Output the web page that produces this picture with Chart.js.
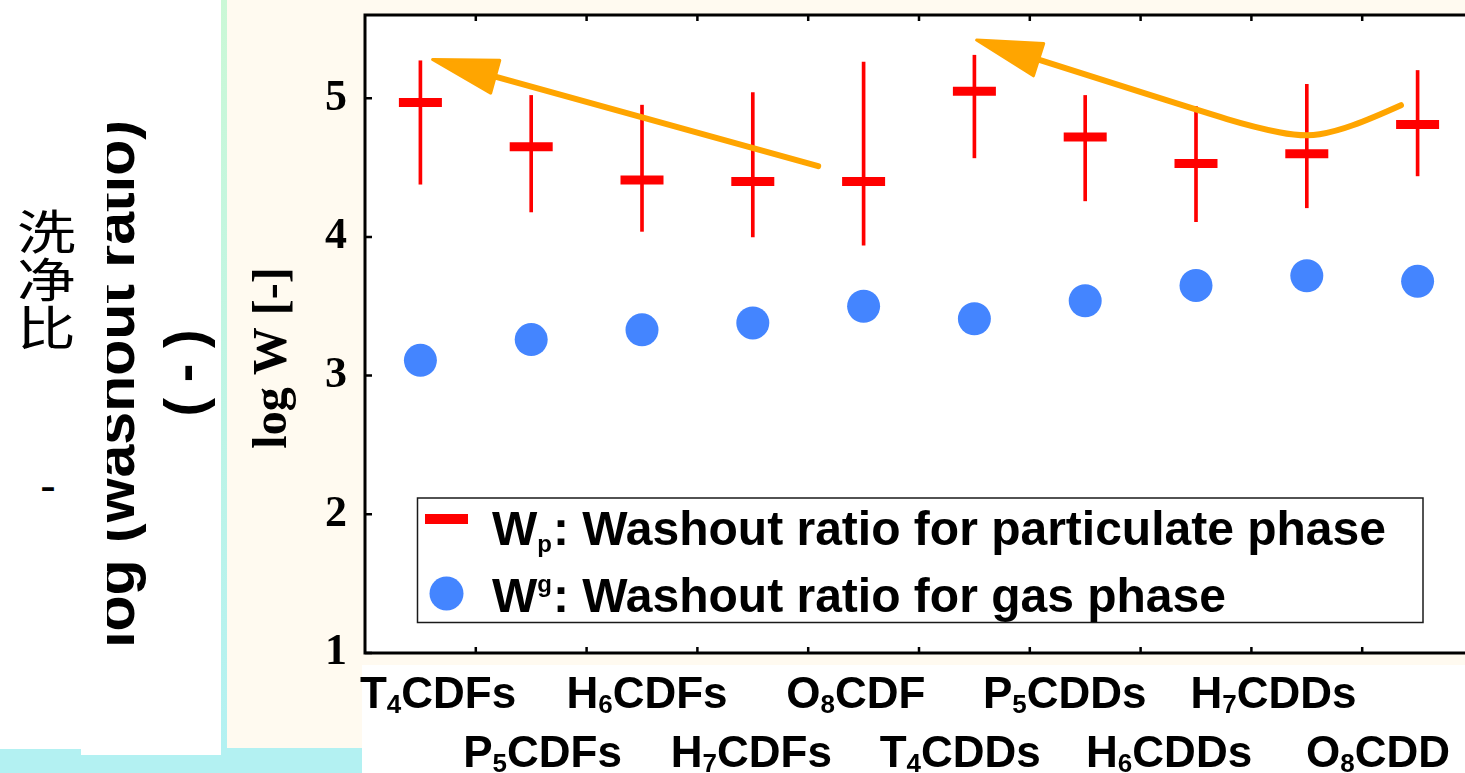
<!DOCTYPE html>
<html>
<head>
<meta charset="utf-8">
<title>Washout ratio of PCDD/Fs</title>
<script src="https://cdn.jsdelivr.net/npm/chart.js@4.4.1/dist/chart.umd.min.js"></script>
<style>
  html, body { margin: 0; padding: 0; width: 1465px; height: 773px; overflow: hidden; background: #fffaf0; }
  .block { position: absolute; }
  #foot { left: 0; top: 748px; width: 362px; height: 25px; background: #b3f1f2; }
  #panel { left: 0; top: 0; width: 221px; height: 749px; background: #fff; }
  #notch { left: 81px; top: 748px; width: 140px; height: 7px; background: #fff; }
  #stripe { left: 221px; top: 0; width: 6px; height: 748px; background: linear-gradient(#cbf8d6, #b3f1f2); }
  #labelZone { left: 362px; top: 665px; width: 1103px; height: 108px; background: #fff; }
  #cjk { left: 17px; top: 205px; font: 47px/48px "Noto Sans CJK SC", sans-serif; color: #000; transform: scaleX(1.25); transform-origin: left top; }
  #dash { left: 40px; top: 462px; font: 48px/48px "Liberation Sans", Arial, sans-serif; color: #000; }
  #clip { left: 107px; top: 0; width: 114px; height: 749px; overflow: hidden; }
  .turned { position: absolute; text-align: center; white-space: nowrap; color: #000; font-family: "Liberation Sans", Arial, sans-serif; font-weight: bold; transform: rotate(-90deg); }
  #washout { left: -292.75px; top: 350.5px; width: 600px; height: 66px; font-size: 59px; line-height: 66px; }
  #unit { left: 83.6px; top: 341.5px; width: 200px; height: 62px; font-size: 56px; line-height: 62px; }
  #chart { position: absolute; left: 0; top: 0; }
</style>
</head>
<body>
<div class="block" id="foot"></div>
<div class="block" id="panel"></div>
<div class="block" id="notch"></div>
<div class="block" id="stripe"></div>
<div class="block" id="labelZone"></div>
<div class="block" id="cjk">洗<br>净<br>比</div>
<div class="block" id="dash">-</div>
<div class="block" id="clip"><div class="turned" id="washout">log (washout ratio)</div></div>
<div class="turned" id="unit">( - )</div>
<canvas id="chart" width="1480" height="773"></canvas>

<script>
// homologue groups, left to right (the digit is drawn as a subscript)
const categories = ['T4CDFs', 'P5CDFs', 'H6CDFs', 'H7CDFs', 'O8CDF', 'T4CDDs', 'P5CDDs', 'H6CDDs', 'H7CDDs', 'O8CDD'];

// particulate phase: mean with low/high range
const wpMean = [4.97, 4.65, 4.41, 4.40, 4.40, 5.05, 4.72, 4.53, 4.60, 4.81];
const wpLow  = [4.38, 4.18, 4.04, 4.00, 3.94, 4.57, 4.26, 4.11, 4.21, 4.44];
const wpHigh = [5.27, 5.02, 4.95, 5.04, 5.26, 5.31, 5.02, 4.94, 5.10, 5.20];

// gas phase
const wgMean = [3.11, 3.26, 3.33, 3.38, 3.50, 3.41, 3.54, 3.65, 3.72, 3.68];

const yTicks = [1, 2, 3, 4, 5];
const seriesLabels = ['Wp: Washout ratio for particulate phase', 'Wg: Washout ratio for gas phase'];

// trend arrows, in (category index, log W); last point is the arrow tip
const trendArrows = [
  [{ x: 3.59, y: 4.51 }, { x: 0.11, y: 5.28 }],
  [{ x: 8.85, y: 4.95 }, { x: 8.57, y: 4.85 }, { x: 8.26, y: 4.76 }, { x: 7.97, y: 4.72 },
   { x: 7.53, y: 4.79 }, { x: 7.03, y: 4.91 }, { x: 5.02, y: 5.42 }]
];

const SANS = '"Liberation Sans", Arial, sans-serif';
const SERIF = '"Liberation Serif", "Times New Roman", serif';

// white plot area, black frame and inward ticks
const framePlugin = {
  id: 'frame',
  beforeDraw(chart) {
    const { ctx, chartArea: a } = chart;
    ctx.save();
    ctx.fillStyle = '#ffffff';
    ctx.fillRect(a.left, a.top, a.right - a.left, a.bottom - a.top);
    ctx.restore();
  },
  afterDraw(chart) {
    const { ctx, chartArea: a, scales } = chart;
    const x = scales.x, y = scales.y;
    ctx.save();
    ctx.strokeStyle = '#000';
    ctx.lineWidth = 3;
    ctx.strokeRect(a.left, a.top, a.right - a.left, a.bottom - a.top);
    ctx.lineWidth = 2.5;
    ctx.beginPath();
    yTicks.forEach(v => {
      const py = y.getPixelForValue(v);
      ctx.moveTo(a.left, py);
      ctx.lineTo(a.left + 7, py);
    });
    for (let i = 1; i < categories.length; i++) {
      const px = (x.getPixelForValue(i - 1) + x.getPixelForValue(i)) / 2;
      ctx.moveTo(px, a.top);
      ctx.lineTo(px, a.top + 6);
      ctx.moveTo(px, a.bottom);
      ctx.lineTo(px, a.bottom - 6);
    }
    ctx.stroke();
    ctx.restore();
  }
};

// category names in two staggered rows, placed by the xl scale
const groupLabelPlugin = {
  id: 'groupLabels',
  afterDraw(chart) {
    const { ctx, scales: { xl } } = chart;
    ctx.save();
    ctx.fillStyle = '#000';
    ctx.textBaseline = 'alphabetic';
    categories.forEach((name, i) => {
      const head = name[0], sub = name[1], tail = name.slice(2);
      ctx.font = 'bold 44px ' + SANS;
      const wHead = ctx.measureText(head).width;
      const wTail = ctx.measureText(tail).width;
      ctx.font = 'bold 26px ' + SANS;
      const wSub = ctx.measureText(sub).width;
      const base = xl.top + (i % 2 ? 114 : 55);
      let tx = xl.getPixelForValue(i) - (wHead + wSub + wTail) / 2;
      ctx.font = 'bold 44px ' + SANS;
      ctx.fillText(head, tx, base);
      tx += wHead;
      ctx.font = 'bold 26px ' + SANS;
      ctx.fillText(sub, tx, base + 5);
      tx += wSub;
      ctx.font = 'bold 44px ' + SANS;
      ctx.fillText(tail, tx, base);
    });
    ctx.restore();
  }
};

// orange arrows drawn on the data scales
const arrowPlugin = {
  id: 'arrows',
  afterDatasetsDraw(chart) {
    const { ctx, scales: { x, y } } = chart;
    const headLen = 65, headHalf = 17;
    ctx.save();
    ctx.strokeStyle = '#ffa500';
    ctx.fillStyle = '#ffa500';
    ctx.lineCap = 'round';
    ctx.lineJoin = 'round';
    trendArrows.forEach(points => {
      const pts = points.map(p => ({ x: x.getPixelForValue(p.x), y: y.getPixelForValue(p.y) }));
      const tip = pts[pts.length - 1];
      const prev = pts[pts.length - 2];
      const len = Math.hypot(tip.x - prev.x, tip.y - prev.y);
      const dx = (tip.x - prev.x) / len, dy = (tip.y - prev.y) / len;
      const base = { x: tip.x - dx * headLen, y: tip.y - dy * headLen };
      const path = pts.slice(0, -1).concat([base]);

      ctx.lineWidth = 6;
      ctx.beginPath();
      ctx.moveTo(path[0].x, path[0].y);
      for (let i = 1; i < path.length - 1; i++) {
        const mx = (path[i].x + path[i + 1].x) / 2, my = (path[i].y + path[i + 1].y) / 2;
        ctx.quadraticCurveTo(path[i].x, path[i].y, mx, my);
      }
      ctx.lineTo(base.x, base.y);
      ctx.stroke();

      ctx.lineWidth = 3;
      ctx.beginPath();
      ctx.moveTo(tip.x, tip.y);
      ctx.lineTo(base.x - dy * headHalf, base.y + dx * headHalf);
      ctx.lineTo(base.x + dy * headHalf, base.y - dx * headHalf);
      ctx.closePath();
      ctx.fill();
      ctx.stroke();
    });
    ctx.restore();
  }
};

// boxed legend inside the plot, with sub/superscripted W
const legendPlugin = {
  id: 'legendBox',
  afterDraw(chart, args, opts) {
    const { ctx, chartArea: a } = chart;
    const left = a.left + opts.x, top = a.top + opts.y;
    ctx.save();
    ctx.fillStyle = '#fff';
    ctx.fillRect(left, top, opts.width, opts.height);
    ctx.strokeStyle = '#1a1a1a';
    ctx.lineWidth = 1.5;
    ctx.strokeRect(left, top, opts.width, opts.height);

    const rows = chart.data.datasets.filter(ds => ds.legendMark);
    rows.forEach((ds, i) => {
      const base = top + opts.firstBaseline + i * opts.rowGap;
      const mx = left + opts.markerX;
      ctx.fillStyle = ds.pointBackgroundColor;
      if (ds.pointStyle === 'line') {
        ctx.fillRect(mx - 21.5, base - 31, 43, 10);
      } else {
        ctx.beginPath();
        ctx.arc(mx, base - 18.5, 17, 0, Math.PI * 2);
        ctx.fill();
      }
      ctx.fillStyle = '#000';
      ctx.textBaseline = 'alphabetic';
      let tx = left + opts.textX;
      ctx.font = 'bold 48px ' + SANS;
      ctx.fillText(ds.label[0], tx, base);
      tx += ctx.measureText(ds.label[0]).width;
      ctx.font = 'bold 24px ' + SANS;
      ctx.fillText(ds.label[1], tx, base + (ds.legendMark === 'sub' ? 7 : -20));
      tx += ctx.measureText(ds.label[1]).width + 1;
      ctx.font = 'bold 48px ' + SANS;
      ctx.fillText(ds.label.slice(2), tx, base);
    });
    ctx.restore();
  }
};

new Chart(document.getElementById('chart'), {
  type: 'bar',
  data: {
    labels: categories,
    datasets: [
      {
        type: 'line',
        label: seriesLabels[0],
        data: wpMean,
        xAxisID: 'x',
        showLine: false,
        pointStyle: 'line',
        pointRadius: 21.5,
        pointBorderWidth: 9,
        pointBorderColor: '#ff0000',
        pointBackgroundColor: '#ff0000',
        order: 1,
        legendMark: 'sub'
      },
      {
        type: 'bar',
        label: 'range',
        data: wpLow.map((lo, i) => [lo, wpHigh[i]]),
        xAxisID: 'x',
        backgroundColor: '#ff0000',
        borderWidth: 0,
        barThickness: 3,
        order: 2
      },
      {
        type: 'line',
        label: seriesLabels[1],
        data: wgMean,
        xAxisID: 'x',
        showLine: false,
        pointStyle: 'circle',
        pointRadius: 16.5,
        pointBorderWidth: 0,
        pointBackgroundColor: '#4485ff',
        order: 3,
        legendMark: 'sup'
      }
    ]
  },
  options: {
    responsive: false,
    animation: false,
    events: [],
    devicePixelRatio: 1,
    layout: { autoPadding: false, padding: { top: 15, right: 7, bottom: 0, left: 0 } },
    plugins: {
      legend: { display: false },
      tooltip: { enabled: false },
      legendBox: { x: 52.5, y: 483, width: 1005.5, height: 124.5, markerX: 29, textX: 74.5, firstBaseline: 47, rowGap: 67 }
    },
    scales: {
      x: {
        type: 'category',
        offset: true,
        display: false
      },
      xl: {
        type: 'linear',
        position: 'bottom',
        offset: false,
        bounds: 'data',
        min: -0.70,
        max: 9.91,
        afterBuildTicks: s => {
          s.min = s.options.min;
          s.max = s.options.max;
          s.ticks = categories.map((_, i) => ({ value: i }));
        },
        afterFit: s => {
          s.height = 120;
          s.paddingLeft = 0;
          s.paddingRight = 0;
        },
        grid: { display: false, drawTicks: false },
        border: { display: false },
        ticks: { display: false, includeBounds: false }
      },
      y: {
        type: 'linear',
        min: 1,
        max: 5.6,
        afterBuildTicks: s => { s.ticks = yTicks.map(v => ({ value: v })); },
        afterFit: s => {
          s.width = 365;
          s.paddingTop = 0;
          s.paddingBottom = 0;
        },
        grid: { display: false, drawTicks: false },
        border: { display: false },
        ticks: {
          padding: 18,
          color: '#000',
          font: { family: SERIF, size: 44, weight: 'bold' }
        },
        title: {
          display: true,
          text: 'log W [-]    ',
          color: '#000',
          font: { family: SERIF, size: 48, weight: 'bold' },
          padding: { top: 245, bottom: 0 }
        }
      }
    }
  },
  plugins: [framePlugin, arrowPlugin, legendPlugin, groupLabelPlugin]
});
</script>
</body>
</html>
